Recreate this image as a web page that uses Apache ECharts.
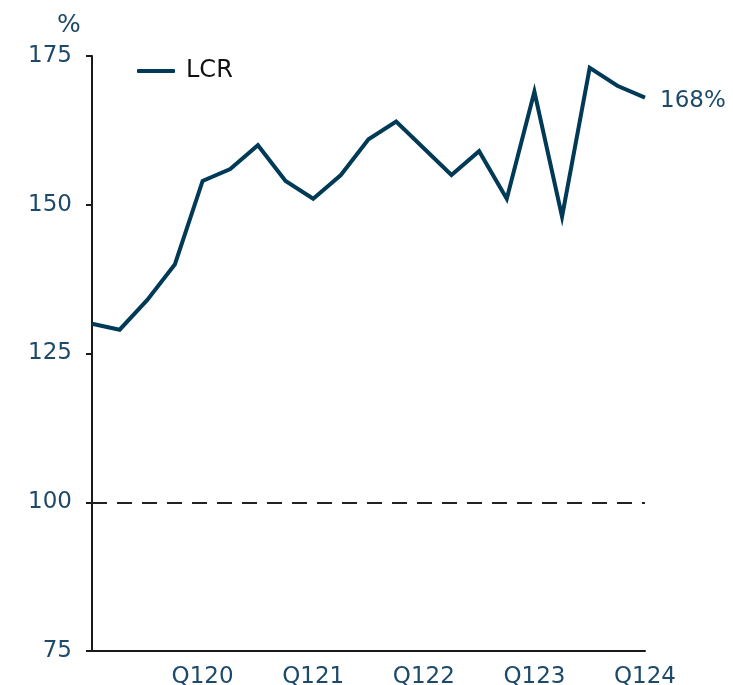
<!DOCTYPE html>
<html>
<head>
<meta charset="utf-8">
<script src="https://cdn.jsdelivr.net/npm/echarts@6/dist/echarts.min.js"></script>
<style>html,body{margin:0;padding:0;background:#fff;}#c{width:733px;height:685px;}</style>
</head>
<body>
<div id="c"></div>
<script>
const categories = ['Q119','Q219','Q319','Q419','Q120','Q220','Q320','Q420','Q121','Q221','Q321','Q421','Q122','Q222','Q322','Q422','Q123','Q223','Q323','Q423','Q124'];
const lcr = [130,129,134,140,154,156,160,154,151,155,161,164,159.5,155,159,151,169,148,173,170,168];
const yTicks = [75,100,125,150,175];
const threshold = 100;

const FONT = '"DejaVu Sans", sans-serif';
const TXT = '#1d4a6a';
const LINE = '#003a57';
const chart = echarts.init(document.getElementById('c'));
chart.setOption({
  animation: false,
  title: { text: '%', left: 52, top: 8, textStyle: { fontFamily: FONT, fontSize: 25, fontWeight: 'normal', color: TXT } },
  legend: {
    left: 132, top: 54,
    itemWidth: 38, itemHeight: 4,
    itemGap: 10,
    icon: 'roundRect',
    itemStyle: { color: LINE, borderWidth: 0 },
    textStyle: { fontFamily: FONT, fontSize: 24, color: '#111', padding: [0,0,0,6] },
    data: ['LCR']
  },
  grid: { left: 92, right: 88, top: 56, bottom: 34, containLabel: false, outerBoundsMode: 'none' },
  xAxis: {
    type: 'category', data: categories, boundaryGap: false,
    axisLine: { lineStyle: { color: '#1a1a1a', width: 2 } },
    axisTick: { show: false },
    axisLabel: {
      interval: (i) => i % 4 === 0 && i !== 0,
      fontFamily: FONT, fontSize: 23, color: TXT, margin: 15
    },
    splitLine: { show: false }
  },
  yAxis: {
    type: 'value', min: yTicks[0], max: yTicks[yTicks.length-1], interval: 25,
    axisLine: { show: true, lineStyle: { color: '#1a1a1a', width: 2 } },
    axisTick: { show: true, length: 6, lineStyle: { color: '#1a1a1a', width: 2 } },
    axisLabel: { fontFamily: FONT, fontSize: 23, color: TXT, margin: 20 },
    splitLine: { show: false }
  },
  series: [{
    name: 'LCR', type: 'line', data: lcr,
    symbol: 'none', color: LINE,
    itemStyle: { color: LINE },
    lineStyle: { width: 4, color: LINE, join: 'miter' },
    endLabel: { show: true, formatter: (p) => p.value + '%', fontFamily: FONT, fontSize: 23, color: TXT, distance: 15, offset: [0, 3] },
    markLine: {
      silent: true, symbol: 'none', label: { show: false },
      lineStyle: { color: '#222', width: 2, type: [15, 10] },
      data: [{ yAxis: threshold }]
    }
  }]
});
</script>
</body>
</html>
